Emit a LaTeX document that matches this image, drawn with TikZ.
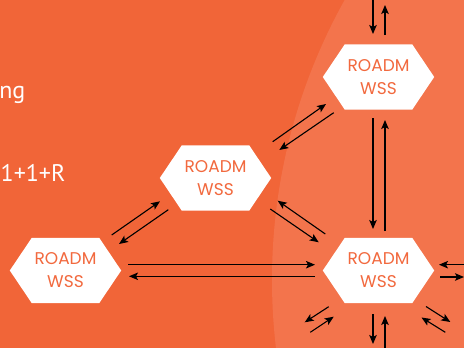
\documentclass[tikz,border=0pt]{standalone}
\usepackage{fontspec}
\setmainfont{Poppins}
\newfontfamily\sidefont{PT Sans}
\usetikzlibrary{arrows.meta,calc}
\definecolor{bgor}{RGB}{241,101,56}
\definecolor{circor}{RGB}{243,116,76}
\definecolor{txtor}{RGB}{242,105,62}
\pgfdeclarelayer{bglayer}
\pgfdeclarelayer{hexlayer}
\pgfsetlayers{bglayer,hexlayer,main}
\begin{document}
\begin{tikzpicture}[x=1pt,y=-1pt,
  hexnode/.style={minimum width=111pt,minimum height=65pt,inner sep=0pt,align=center,text=txtor,font=\fontsize{17}{23}\selectfont},
  arr/.style={-{Stealth[length=9pt,width=7.5pt,inset=2pt]},line width=1.1pt,black},
  sidetext/.style={text=white,font=\sidefont\fontsize{24}{28}\selectfont,inner sep=0pt}]
\useasboundingbox (0,0) rectangle (464,348);
\begin{pgfonlayer}{bglayer}
\clip (0,0) rectangle (464,348);
\fill[bgor] (0,0) rectangle (464,348);
\fill[circor] (847,280) circle[radius=575];
\end{pgfonlayer}

\node[sidetext,anchor=base east] (t1) at (25.5,98) {ng};
\node[sidetext,anchor=base west] (t2) at (0.5,181.5) {1+1+R};

\node[hexnode] (tr)  at (378.5,77)    {ROADM\\WSS};
\node[hexnode] (mid) at (215.5,178)   {ROADM\\WSS};
\node[hexnode] (bl)  at (65.5,270.5)  {ROADM\\WSS};
\node[hexnode] (br)  at (378.5,270.5) {ROADM\\WSS};

\begin{pgfonlayer}{hexlayer}
\foreach \n in {tr,mid,bl,br}{
  \fill[white] (\n.west) -- ([xshift=22pt]\n.north west) -- ([xshift=-22pt]\n.north east)
    -- (\n.east) -- ([xshift=-22pt]\n.south east) -- ([xshift=22pt]\n.south west) -- cycle;}
\end{pgfonlayer}

% free ends
\coordinate (c1) at (373,-2);
\coordinate (c2) at (385,5);
\coordinate (c3) at (467,264.7);
\coordinate (c4) at (464,277);
\coordinate (c5) at (373,344);
\coordinate (c6) at (385,350);
\coordinate (c7) at (304.7,322.3);
\coordinate (c8) at (310.3,332.3);
\coordinate (c9) at (450.3,322);
\coordinate (c10) at (445.3,332.3);

% top of tr
\draw[arr] (c1) -- ([shift={(-5.5,-43)}]tr.center);
\draw[arr] ([shift={(6.5,-42)}]tr.center) -- (c2);
% tr - br
\draw[arr] ([shift={(-5.5,41)}]tr.center) -- ([shift={(-5.5,-41.5)}]br.center);
\draw[arr] ([shift={(6.5,-39.5)}]br.center) -- ([shift={(6.5,43)}]tr.center);
% mid - tr
\draw[arr] ([shift={(57.2,-36.3)}]mid.center) -- ([shift={(-52.5,27)}]tr.center);
\draw[arr] ([shift={(-44.8,35.7)}]tr.center) -- ([shift={(63.8,-28)}]mid.center);
% bl - mid
\draw[arr] ([shift={(46.2,-35.5)}]bl.center) -- ([shift={(-55.5,23.3)}]mid.center);
\draw[arr] ([shift={(-47.2,31.7)}]mid.center) -- ([shift={(53.5,-26.5)}]bl.center);
% mid - br
\draw[arr] ([shift={(-53.2,-36.5)}]br.center) -- ([shift={(62.2,22.7)}]mid.center);
\draw[arr] ([shift={(54.8,31)}]mid.center) -- ([shift={(-59.8,-28.2)}]br.center);
% bl - br
\draw[arr] ([shift={(62.5,-5.8)}]bl.center) -- ([shift={(-63.5,-5.8)}]br.center);
\draw[arr] ([shift={(-63.5,5.8)}]br.center) -- ([shift={(63.5,5.8)}]bl.center);
% right of br
\draw[arr] (c3) -- ([shift={(60.5,-5.8)}]br.center);
\draw[arr] ([shift={(61.5,6.5)}]br.center) -- (c4);
% bottom of br
\draw[arr] ([shift={(-5.5,43.5)}]br.center) -- (c5);
\draw[arr] (c6) -- ([shift={(6.5,45.5)}]br.center);
% lower-left of br
\draw[arr] ([shift={(-49.8,36.2)}]br.center) -- (c7);
\draw[arr] (c8) -- ([shift={(-44.8,46.2)}]br.center);
% lower-right of br
\draw[arr] ([shift={(47.5,36)}]br.center) -- (c9);
\draw[arr] (c10) -- ([shift={(43,47)}]br.center);
\end{tikzpicture}
\end{document}
